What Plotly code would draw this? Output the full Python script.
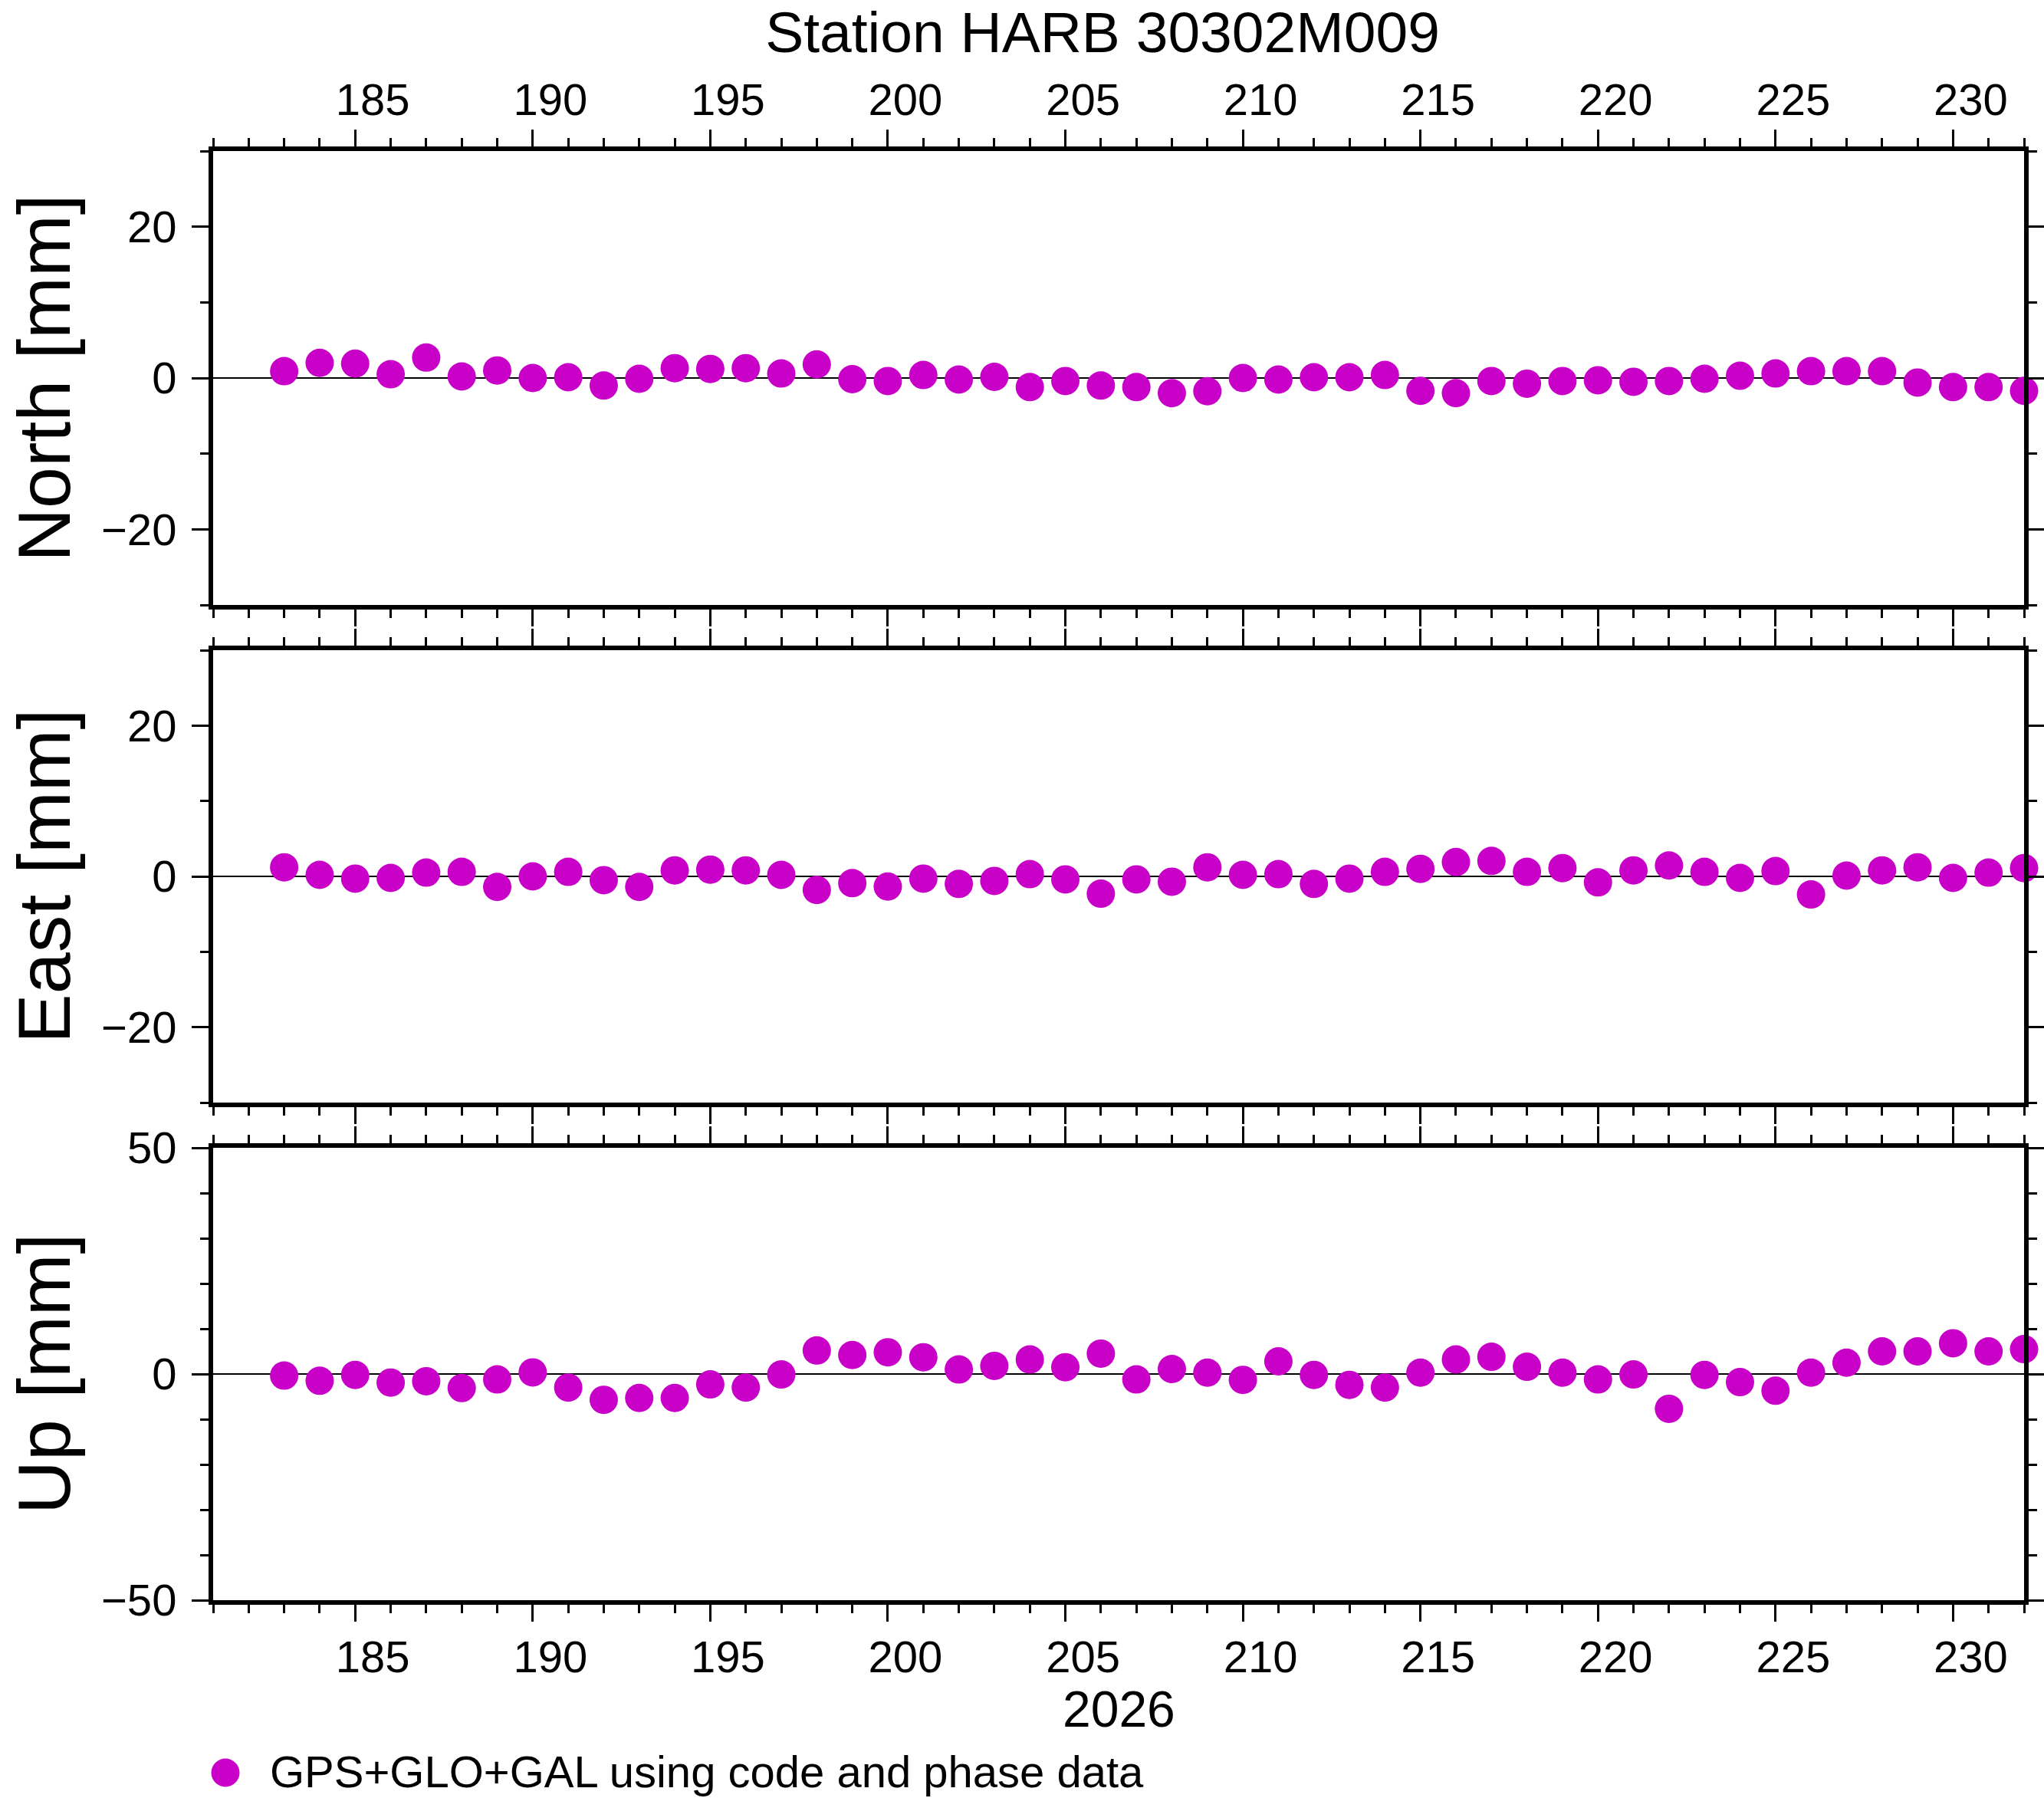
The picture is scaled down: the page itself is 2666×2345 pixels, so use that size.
import plotly.graph_objects as go

# ---------------- data ----------------
days = [183, 184, 185, 186, 187, 188, 189, 190, 191, 192,
        193, 194, 195, 196, 197, 198, 199, 200, 201, 202,
        203, 204, 205, 206, 207, 208, 209, 210, 211, 212,
        213, 214, 215, 216, 217, 218, 219, 220, 221, 222,
        223, 224, 225, 226, 227, 228, 229, 230, 231, 232]

north = [0.9, 2.0, 1.9, 0.5, 2.7, 0.2, 1.0, 0.0, 0.1, -1.0,
         -0.1, 1.3, 1.2, 1.3, 0.6, 1.8, -0.15, -0.4, 0.4, -0.2,
         0.15, -1.2, -0.4, -1.0, -1.2, -2.0, -1.75, 0.0, -0.2, 0.1,
         0.1, 0.4, -1.7, -2.0, -0.4, -0.75, -0.4, -0.3, -0.5, -0.4,
         -0.1, 0.3, 0.6, 0.9, 0.9, 0.9, -0.6, -1.2, -1.2, -1.7]

east = [1.2, 0.2, -0.3, -0.2, 0.5, 0.6, -1.4, 0.0, 0.6, -0.5,
        -1.4, 0.8, 0.9, 0.8, 0.2, -1.8, -0.9, -1.35, -0.3, -1.0,
        -0.6, 0.3, -0.4, -2.3, -0.4, -0.7, 1.2, 0.2, 0.3, -1.0,
        -0.3, 0.6, 1.0, 1.9, 2.05, 0.6, 1.1, -0.8, 0.8, 1.45,
        0.6, -0.2, 0.7, -2.4, 0.1, 0.8, 1.2, -0.2, 0.5, 1.1]

up = [-0.35, -1.5, -0.2, -1.9, -1.6, -3.1, -1.2, 0.35, -3.0, -5.7,
      -5.3, -5.3, -2.3, -3.0, -0.1, 5.2, 4.2, 4.8, 3.7, 1.0,
      1.8, 3.2, 1.5, 4.5, -1.2, 1.1, 0.3, -1.3, 2.8, -0.2,
      -2.4, -3.0, 0.3, 3.2, 3.8, 1.6, 0.3, -1.2, -0.1, -7.7,
      -0.2, -1.8, -3.7, 0.3, 2.5, 5.0, 5.0, 6.8, 5.0, 5.5]

panel_titles = ["North [mm]", "East [mm]", "Up [mm]"]
x_tick_values = [185, 190, 195, 200, 205, 210, 215, 220, 225, 230]
x_tick_labels = ["185", "190", "195", "200", "205", "210", "215", "220", "225", "230"]
y_tick_values_ne = [-20, 0, 20]
y_tick_values_up = [-50, 0, 50]
x_range = [181, 232]
y_range_ne = [-30, 30]
y_range_up = [-50, 50]

title_text = "Station HARB 30302M009"
year_label = "2026"
legend_label = "GPS+GLO+GAL using code and phase data"

# ---------------- styling ----------------
W, H = 2666, 2345
FONT = "Liberation Sans"
COLOR = "rgb(200,0,200)"
X0, X1 = 278, 2640            # plot left/right (px)
PANELS = [(197, 789), (848, 1438), (1497, 2087)]  # top/bottom px per panel


def px_x(p):
    return p / W


def px_y(p):
    return 1 - p / H


fig = go.Figure()

series = [north, east, up]
for i, vals in enumerate(series):
    sfx = "" if i == 0 else str(i + 1)
    fig.add_trace(go.Scatter(
        x=days, y=vals, mode="markers",
        marker=dict(size=37, color=COLOR, line=dict(width=0)),
        xaxis="x" + sfx, yaxis="y" + sfx,
        cliponaxis=False, showlegend=False,
        name=legend_label,
    ))

common_x = dict(
    range=x_range, showline=True, linewidth=6, linecolor="black",
    mirror="allticks", ticks="outside", ticklen=22, tickwidth=3,
    tickcolor="black", tickvals=x_tick_values, ticktext=x_tick_labels,
    minor=dict(dtick=1, tick0=0, ticks="outside", ticklen=11,
               tickwidth=3, tickcolor="black", showgrid=False),
    showgrid=False, zeroline=False, automargin=False,
    tickfont=dict(family=FONT, size=58, color="black"),
    ticklabelshift=23, ticklabelstandoff=-4,
    domain=[px_x(X0), px_x(X1)],
)

for i in range(3):
    sfx = "" if i == 0 else str(i + 1)
    top, bot = PANELS[i]
    xa = dict(common_x)
    xa["anchor"] = "y" + sfx
    if i == 0:
        xa["side"] = "top"
        xa["showticklabels"] = True
    elif i == 1:
        xa["showticklabels"] = False
    else:
        xa["showticklabels"] = True
    if i > 0:
        xa["matches"] = "x"
    fig.update_layout(**{"xaxis" + sfx: xa})

    if i < 2:
        yr, yt = y_range_ne, y_tick_values_ne
    else:
        yr, yt = y_range_up, y_tick_values_up
    ya = dict(
        range=yr, domain=[px_y(bot), px_y(top)], anchor="x" + sfx,
        showline=True, linewidth=6, linecolor="black", mirror="allticks",
        ticks="outside", ticklen=22, tickwidth=3, tickcolor="black",
        tickvals=yt, automargin=False, ticklabelstandoff=8,
        minor=dict(dtick=10, tick0=0, ticks="outside", ticklen=11,
                   tickwidth=3, tickcolor="black", showgrid=False),
        showgrid=False, zeroline=True, zerolinecolor="black",
        zerolinewidth=1.5,
        tickfont=dict(family=FONT, size=58, color="black"),
    )
    fig.update_layout(**{"yaxis" + sfx: ya})

annotations = []
for i, t in enumerate(panel_titles):
    top, bot = PANELS[i]
    annotations.append(dict(
        text=t, xref="paper", yref="paper", x=px_x(57), y=px_y((top + bot) / 2),
        xanchor="center", yanchor="middle", textangle=-90, showarrow=False,
        font=dict(family=FONT, size=97, color="black"),
    ))
annotations.append(dict(
    text=year_label, xref="paper", yref="paper", x=px_x(1459), y=px_y(2229),
    xanchor="center", yanchor="middle", showarrow=False,
    font=dict(family=FONT, size=66, color="black"),
))
annotations.append(dict(
    text=legend_label, xref="paper", yref="paper", x=px_x(350), y=px_y(2310),
    xanchor="left", yanchor="middle", showarrow=False,
    font=dict(family=FONT, size=58, color="black"),
))

shapes = [dict(
    type="circle", xref="paper", yref="paper",
    xsizemode="pixel", ysizemode="pixel",
    xanchor=px_x(294), yanchor=px_y(2312),
    x0=-18.5, x1=18.5, y0=-18.5, y1=18.5,
    fillcolor=COLOR, line=dict(width=0),
)]

fig.update_layout(
    width=W, height=H,
    margin=dict(l=0, r=0, t=0, b=0, pad=0, autoexpand=False),
    paper_bgcolor="white", plot_bgcolor="white",
    showlegend=False, annotations=annotations, shapes=shapes,
    font=dict(family=FONT, color="black"),
    title=dict(text=title_text, x=px_x(1438), xref="paper", xanchor="center",
               y=px_y(42), yref="container", yanchor="middle",
               font=dict(family=FONT, size=75, color="black")),
)

fig.write_html("out.html",
               config={"displayModeBar": False},
               post_script="document.body.style.margin='0px';"
                           "document.body.style.overflow='hidden';")
